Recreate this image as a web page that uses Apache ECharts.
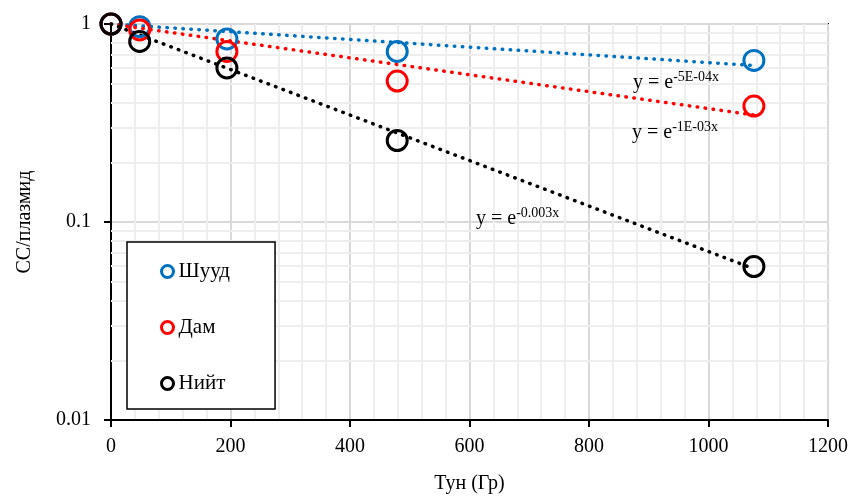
<!DOCTYPE html>
<html>
<head>
<meta charset="utf-8">
<script src="https://cdn.jsdelivr.net/npm/echarts@6/dist/echarts.min.js"></script>
<style>
  html, body { margin: 0; padding: 0; background: #fff; }
  #chart { width: 855px; height: 499px; }
</style>
</head>
<body>
<div id="chart"></div>
<script>
// dose values (x) and survival fractions
var doses = [0, 48, 194, 479, 1076];
var direct = [1, 0.969, 0.841, 0.727, 0.655];
var indirect = [1, 0.933, 0.727, 0.515, 0.385];
var total = [1, 0.816, 0.600, 0.258, 0.0596];

// trend lines: start and end points
var trendX = [0, 1076];
var trendDirect = [1, 0.617];
var trendIndirect = [1, 0.347];
var trendTotal = [1, 0.058];

var names = ['Шууд', 'Дам', 'Нийт'];
var colors = ['#0070C0', '#FF0000', '#000000'];
var exponents = ['-5E-04x', '-1E-03x', '-0.003x'];
var minorY = [0.02, 0.03, 0.04, 0.05, 0.06, 0.07, 0.08, 0.09,
              0.2, 0.3, 0.4, 0.5, 0.6, 0.7, 0.8, 0.9];

var font = '"Liberation Serif", "Times New Roman", serif';

function pairs(xs, ys) {
    return xs.map(function (x, i) { return [x, ys[i]]; });
}

var pointSets = [direct, indirect, total];
var trendSets = [trendDirect, trendIndirect, trendTotal];

var series = [];

// light horizontal minor grid lines for the log axis
series.push({
    name: 'grid',
    type: 'line',
    data: [],
    z: 1,
    silent: true,
    markLine: {
        silent: true,
        z: 1,
        symbol: 'none',
        label: { show: false },
        animation: false,
        lineStyle: { color: '#eeeeee', width: 2, type: 'solid' },
        data: minorY.map(function (v) { return { yAxis: v }; })
    }
});

trendSets.forEach(function (t, i) {
    series.push({
        name: names[i] + ' trend',
        type: 'line',
        data: pairs(trendX, t),
        symbol: 'none',
        silent: true,
        z: 3,
        lineStyle: { color: colors[i], width: 3.5, type: [0.5, 7.5], cap: 'round' }
    });
});

pointSets.forEach(function (p, i) {
    series.push({
        name: names[i],
        type: 'scatter',
        data: pairs(doses, p),
        symbol: 'circle',
        symbolSize: 20,
        z: 4,
        itemStyle: {
            color: 'rgba(255,255,255,0)', borderColor: colors[i], borderWidth: 3,
            borderType: 'solid', opacity: 1
        }
    });
});

var eqPos = [[633, 70], [632, 120], [476, 206]];
var graphics = exponents.map(function (e, i) {
    return {
        type: 'text',
        left: eqPos[i][0],
        top: eqPos[i][1],
        z: 10,
        style: {
            text: '{a|y = e}{b|' + e + '}',
            rich: {
                a: { fontFamily: font, fontSize: 20, lineHeight: 26, fill: '#000' },
                b: { fontFamily: font, fontSize: 14, lineHeight: 14, verticalAlign: 'top', fill: '#000' }
            }
        }
    };
});

var myChart = echarts.init(document.getElementById('chart'), null, { renderer: 'canvas' });

var option = {
    animation: false,
    backgroundColor: '#fff',
    textStyle: { fontFamily: font },
    grid: {
        left: 111, right: 27, top: 24, bottom: 75,
        show: true, borderColor: '#000', borderWidth: 2, backgroundColor: 'transparent'
    },
    legend: {
        orient: 'vertical',
        left: 127,
        top: 242,
        z: 8,
        padding: [19, 45, 15, 33],
        itemGap: 35,
        itemWidth: 12,
        itemHeight: 12,
        borderColor: '#000',
        borderWidth: 1.5,
        backgroundColor: '#fff',
        textStyle: { fontFamily: font, fontSize: 21, lineHeight: 20, color: '#000' },
        data: names.map(function (n, i) {
            return {
                name: n,
                icon: 'circle',
                itemStyle: { color: '#fff', borderColor: colors[i], borderWidth: 3, borderType: 'solid' }
            };
        })
    },
    xAxis: {
        type: 'value',
        min: 0,
        max: 1200,
        interval: 200,
        name: 'Тун (Гр)',
        nameLocation: 'middle',
        nameGap: 54,
        nameTextStyle: { fontFamily: font, fontSize: 20, color: '#000' },
        axisLine: { show: true, lineStyle: { color: '#000', width: 2 } },
        axisTick: { show: true, inside: false, length: 7, lineStyle: { color: '#000', width: 2 } },
        axisLabel: {
            fontFamily: font, fontSize: 20, color: '#000', margin: 17,
            formatter: function (v) { return String(v); }
        },
        splitLine: { show: true, lineStyle: { color: '#d9d9d9', width: 2 } },
        minorTick: { show: false, splitNumber: 5 },
        minorSplitLine: { show: true, lineStyle: { color: '#eeeeee', width: 2 } }
    },
    yAxis: {
        type: 'log',
        logBase: 10,
        min: 0.01,
        max: 1,
        name: 'СС/плазмид',
        nameLocation: 'middle',
        nameGap: 76,
        nameTextStyle: { fontFamily: font, fontSize: 20, color: '#000' },
        axisLine: { show: true, lineStyle: { color: '#000', width: 2 } },
        axisTick: { show: true, inside: false, length: 7, lineStyle: { color: '#000', width: 2 } },
        axisLabel: {
            fontFamily: font, fontSize: 20, color: '#000', margin: 20,
            formatter: function (v) { return String(+v.toPrecision(3)); }
        },
        splitLine: { show: true, lineStyle: { color: '#d9d9d9', width: 2 } }
    },
    graphic: graphics,
    series: series
};

myChart.setOption(option);
</script>
</body>
</html>
